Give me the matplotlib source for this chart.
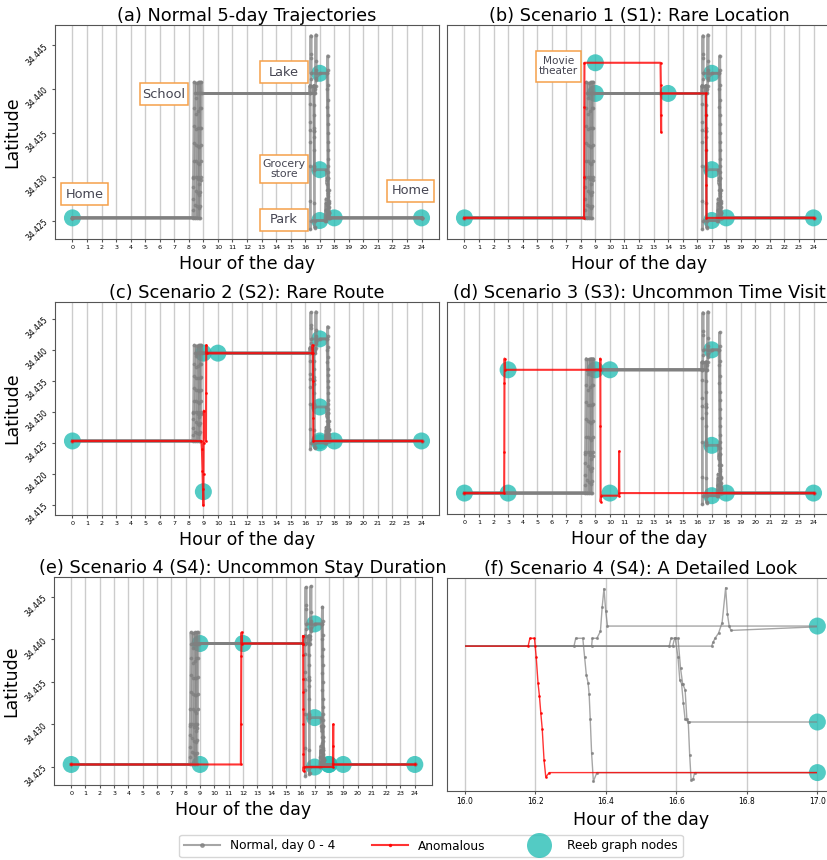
import matplotlib
matplotlib.use("Agg")
import matplotlib.pyplot as plt
from matplotlib.lines import Line2D
from matplotlib.patches import Rectangle
from matplotlib.ticker import FormatStrFormatter

# latitudes of the visited places
home, school, lake, grocery, park = 34.4253, 34.4395, 34.4418, 34.4308, 34.4250
theater, rare = 34.4430, 34.4171

# normal days 0 - 4 (hour of day, latitude)
day0_hours = [0, 8.27, 8.28, 8.29, 8.30, 8.31, 8.32, 8.33, 8.34, 8.35, 8.36, 8.37, 8.40,
              16.31, 16.315, 16.335, 16.34, 16.345, 16.35, 16.353, 16.356, 16.36, 16.365, 16.375,
              17.40, 17.42, 17.44, 17.46, 17.48, 17.50, 24]
day0_lat = [home, home, 34.4262, 34.4274, 34.4288, 34.4298, 34.4300, 34.4318, 34.4338, 34.4358, 34.4378, 34.4408, school,
            school, 34.4404, 34.4404, 34.4383, 34.4362, 34.4353, 34.4340, 34.4312, 34.4272, 34.4240, 34.4250,
            park, 34.4262, 34.4270, 34.4262, 34.4256, home, home]

day1_hours = [0, 8.44, 8.45, 8.46, 8.47, 8.48, 8.49, 8.50, 8.51, 8.52, 8.53, 8.56,
              16.36, 16.362, 16.375, 16.385, 16.39, 16.395, 16.40, 16.405,
              17.52, 17.55, 17.56, 17.565, 17.57, 17.575, 17.58, 17.585, 17.59, 17.60, 17.61, 17.62, 17.64, 17.66, 24]
day1_lat = [home, home, 34.4268, 34.4284, 34.4300, 34.4318, 34.4336, 34.4354, 34.4372, 34.4390, 34.4407, school,
            school, 34.4404, 34.4404, 34.4412, 34.4440, 34.4461, 34.4435, lake,
            lake, 34.4438, 34.4422, 34.4405, 34.4388, 34.4370, 34.4350, 34.4330, 34.4312, 34.4298, 34.4285, 34.4270, 34.4258,
            home, home]

day2_hours = [0, 8.58, 8.59, 8.60, 8.61, 8.62, 8.63, 8.64, 8.65, 8.66, 8.67, 8.70,
              16.58, 16.585, 16.597, 16.605, 16.61, 16.615, 16.62, 16.625, 16.635,
              17.45, 17.47, 17.49, 17.51, 17.53, 17.55, 17.57, 17.59, 17.61, 17.63, 17.65, 24]
day2_lat = [home, home, 34.4266, 34.4281, 34.4297, 34.4300, 34.4316, 34.4335, 34.4355, 34.4375, 34.4408, school,
            school, 34.4404, 34.4404, 34.4382, 34.4356, 34.4352, 34.4330, 34.4311, grocery,
            grocery, 34.4298, 34.4292, 34.4296, 34.4285, 34.4278, 34.4281, 34.4270, 34.4265, 34.4258, home, home]

day3_hours = [0, 8.67, 8.68, 8.69, 8.70, 8.71, 8.72, 8.73, 8.74, 8.75, 8.76, 8.79,
              16.59, 16.595, 16.605, 16.612, 16.618, 16.625, 16.63, 16.634, 16.638, 16.642, 16.648, 16.652,
              17.35, 17.40, 17.44, 17.48, 17.52, 17.54, 24]
day3_lat = [home, home, 34.4264, 34.4279, 34.4292, 34.4299, 34.4314, 34.4334, 34.4355, 34.4378, 34.4408, school,
            school, 34.4404, 34.4404, 34.4370, 34.4352, 34.4345, 34.4312, 34.4308, 34.4270, 34.4242, 34.4243, park,
            park, 34.4262, 34.4275, 34.4268, 34.4258, home, home]

day4_hours = [0, 8.78, 8.79, 8.80, 8.81, 8.82, 8.83, 8.84, 8.85, 8.86, 8.87, 8.90,
              16.70, 16.705, 16.71, 16.72, 16.73, 16.74, 16.745, 16.75, 16.755,
              17.05, 17.50, 17.52, 17.53, 17.54, 17.55, 17.56, 17.57, 17.58, 17.60, 17.62, 17.66, 17.68, 24]
day4_lat = [home, home, 34.4267, 34.4282, 34.4296, 34.4300, 34.4318, 34.4336, 34.4356, 34.4378, 34.4408, school,
            school, 34.4400, 34.4404, 34.4410, 34.4422, 34.4462, 34.4432, 34.4418, 34.4413,
            lake, lake, 34.4400, 34.4380, 34.4360, 34.4340, 34.4320, 34.4305, 34.4298, 34.4285, 34.4272, 34.4260,
            home, home]

normal_days = [(day0_hours, day0_lat), (day1_hours, day1_lat), (day2_hours, day2_lat),
               (day3_hours, day3_lat), (day4_hours, day4_lat)]

# anomalous days
s1_hours = [0, 8.22, 8.23, 8.24, 8.25, 13.48, 13.50, 13.51, 13.52, 13.53, 16.60, 16.61, 16.62, 16.63, 16.64, 24]
s1_lat = [home, home, 34.4300, 34.4380, theater, theater, 34.4405, 34.4370, 34.4351, school,
          school, 34.4370, 34.4330, 34.4290, home, home]

s2_hours = [0, 8.86, 8.90, 8.94, 8.97, 9.00, 9.01, 9.02, 9.03, 9.18, 9.19, 9.20, 9.22,
            16.50, 16.51, 16.53, 16.54, 16.55, 16.56, 24]
s2_lat = [home, home, 34.4240, 34.4205, 34.4175, 34.4149, 34.4200, 34.4250, 34.4302, 34.4253, 34.4330, 34.4408, school,
          school, 34.4408, school, 34.4350, 34.4290, home, home]

s3_hours = [0, 2.73, 2.74, 2.75, 2.76, 2.80, 9.33, 9.34, 9.35, 9.36, 9.40, 10.62, 10.63, 10.65, 24]
s3_lat = [home, home, 34.4300, 34.4380, 34.4408, school, school, 34.4408, 34.4330, 34.4243, park,
          park, 34.4301, home, home]

s4_hours = [0, 11.85, 11.86, 11.88, 11.90, 11.92,
            16.18, 16.185, 16.198, 16.20, 16.203, 16.208, 16.212, 16.216, 16.22, 16.225, 16.23, 16.24,
            18.28, 18.29, 18.30, 18.31, 24]
s4_lat = [home, home, 34.4300, 34.4380, 34.4408, school,
          school, 34.4404, 34.4404, 34.4395, 34.4382, 34.4353, 34.4338, 34.4318, 34.4300, 34.4265, 34.4245, park,
          park, 34.4275, 34.4300, home, home]

# Reeb graph nodes per panel
a_node_hours = [0, 17, 17, 17, 18, 24]
a_node_lat = [home, lake, grocery, park, home, home]
b_node_hours = [0, 9, 9, 14, 17, 17, 17, 18, 24]
b_node_lat = [home, theater, school, school, lake, grocery, park, home, home]
c_node_hours = [0, 9, 10, 9, 17, 17, 17, 17, 18, 24]
c_node_lat = [home, school, school, rare, lake, grocery, park, home, home, home]
d_node_hours = [0, 3, 3, 9, 10, 10, 17, 17, 17, 18, 24]
d_node_lat = [home, home, school, school, school, home, lake, grocery, park, home, home]
e_node_hours = [0, 9, 9, 12, 17, 17, 17, 18, 18, 19, 24]
e_node_lat = [home, home, school, school, lake, grocery, park, home, home, home, home]
f_node_hours = [17, 17, 17]
f_node_lat = [lake, grocery, park]

# place labels: text, centre hour, centre latitude, box width (h), box height (deg), font size
a_labels = [("Home", 0.82, 34.4280, 3.28, 0.0025, 9.3),
            ("School", 6.28, 34.4394, 3.28, 0.0025, 9.3),
            ("Lake", 14.54, 34.4419, 3.28, 0.0025, 9.3),
            ("Grocery\nstore", 14.54, 34.4309, 3.28, 0.0032, 7.8),
            ("Park", 14.54, 34.4251, 3.28, 0.0025, 9.3),
            ("Home", 23.24, 34.4284, 3.28, 0.0025, 9.3)]
b_labels = [("Movie\ntheater", 6.45, 34.4426, 3.07, 0.0035, 7.6)]

node_color = "#28BEB6"
W, H = 828, 860
fig = plt.figure(figsize=(W / 100, H / 100), dpi=100)


def add_axes(left, right, top, bottom):
    return fig.add_axes([left / W, 1 - bottom / H, (right - left) / W, (bottom - top) / H])


ax_a = add_axes(55, 439, 25, 239)
ax_b = add_axes(447, 831, 25, 239)
ax_c = add_axes(55, 439, 302, 515)
ax_d = add_axes(447, 831, 302, 514)
ax_e = add_axes(54, 432, 577, 785)
ax_f = add_axes(447, 835, 578, 791)

panels = [
    (ax_a, None, None, a_node_hours, a_node_lat, "(a) Normal 5-day Trajectories", a_labels),
    (ax_b, s1_hours, s1_lat, b_node_hours, b_node_lat, "(b) Scenario 1 (S1): Rare Location", b_labels),
    (ax_c, s2_hours, s2_lat, c_node_hours, c_node_lat, "(c) Scenario 2 (S2): Rare Route", []),
    (ax_d, s3_hours, s3_lat, d_node_hours, d_node_lat, "(d) Scenario 3 (S3): Uncommon Time Visit", []),
    (ax_e, s4_hours, s4_lat, e_node_hours, e_node_lat, "(e) Scenario 4 (S4): Uncommon Stay Duration", []),
    (ax_f, s4_hours, s4_lat, f_node_hours, f_node_lat, "(f) Scenario 4 (S4): A Detailed Look", []),
]

for i, (ax, an_h, an_lat, nh, nl, title, labels) in enumerate(panels):
    detail = ax is ax_f
    lw_n = 1.0 if detail else 2.0
    ms_n = 2.5 if detail else 3.5
    lines = []
    ax.scatter(nh, nl, s=150, color=node_color, alpha=0.8, edgecolors="none", zorder=1)
    for hrs, lat in normal_days:
        ln, = ax.plot(hrs, lat, color="gray", lw=lw_n, marker=".", markersize=ms_n, alpha=0.7, zorder=2)
        lines.append(ln)
    if an_h is not None:
        ln, = ax.plot(an_h, an_lat, color="red", lw=1.0 if detail else 1.5, marker=".",
                      markersize=2, alpha=0.8, zorder=3)
        lines.append(ln)

    if detail:
        clip = Rectangle((16.0, 34.40), 1.0, 0.1, transform=ax.transData)
        for ln in lines:
            ln.set_clip_path(clip)
        ax.set_xlim(15.95, 17.05)
        ax.set_xticks([16.0, 16.2, 16.4, 16.6, 16.8, 17.0])
        ax.tick_params(axis="x", labelsize=5.5)
    else:
        ax.set_xticks(range(25))
        ax.tick_params(axis="x", labelsize=4.6)

    for text, cx, cy, bw, bh, fs in labels:
        ax.add_patch(Rectangle((cx - bw / 2, cy - bh / 2), bw, bh, facecolor="white",
                               edgecolor="#F5A04A", lw=1.1, zorder=4))
        ax.text(cx, cy, text, ha="center", va="center", fontsize=fs, color="#454552",
                linespacing=1.0, zorder=5)

    ax.grid(axis="x", color="#cccccc", lw=1)
    ax.set_axisbelow(True)
    for sp in ax.spines.values():
        sp.set_color("#555555")
    ax.tick_params(axis="both", length=2, color="#555555", pad=2)
    ax.set_title(title, fontsize=12.8, pad=3)
    ax.set_xlabel("Hour of the day", fontsize=12.5, labelpad=4)
    if i % 2 == 0:
        ax.set_ylabel("Latitude", fontsize=12.5, labelpad=2)
        ax.yaxis.set_major_formatter(FormatStrFormatter("%.3f"))
        ax.tick_params(axis="y", labelsize=5.5, labelrotation=45)
    else:
        ax.tick_params(axis="y", left=False, labelleft=False)

handles = [
    Line2D([], [], color="gray", lw=1.5, marker=".", markersize=5, alpha=0.7),
    Line2D([], [], color="red", lw=1.5, marker=".", markersize=3, alpha=0.8),
    Line2D([], [], ls="none", marker="o", markersize=18, color=node_color, alpha=0.8, markeredgewidth=0),
]
fig.legend(handles, ["Normal, day 0 - 4", "Anomalous", "Reeb graph nodes"], loc="center",
           bbox_to_anchor=(431 / W, 1 - 846 / H), ncol=3, fontsize=8.7, frameon=True,
           handlelength=3, columnspacing=3)

fig.savefig("out.png", dpi=100)
